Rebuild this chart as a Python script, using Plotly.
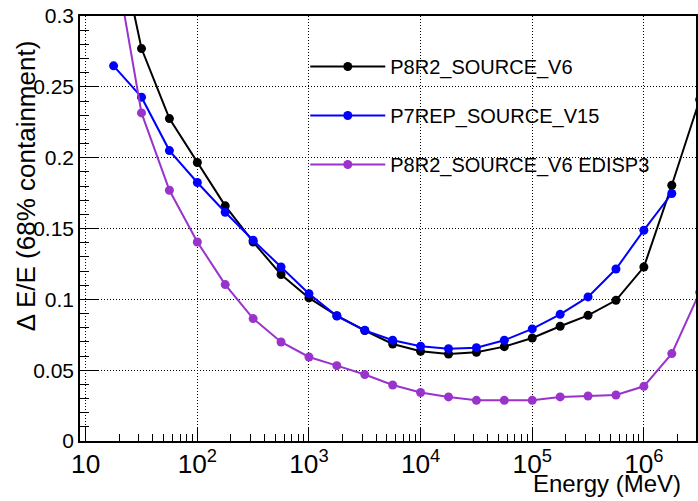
import plotly.graph_objects as go

energy = [17.78, 31.62, 56.23, 100, 177.8, 316.2, 562.3, 1000, 1778, 3162, 5623,
          10000, 17783, 31623, 56234, 100000, 177828, 316228, 562341, 1000000,
          1778279, 3162278]

p8r2 = [0.370, 0.277, 0.2276, 0.1966, 0.166, 0.1405, 0.1175, 0.101, 0.0885, 0.078,
        0.0685, 0.0633, 0.0614, 0.0626, 0.0666, 0.0727, 0.081, 0.0887, 0.0993,
        0.1228, 0.1805, 0.241]
p7rep = [0.2648, 0.2427, 0.205, 0.1825, 0.1615, 0.1417, 0.1228, 0.104, 0.0882,
         0.0781, 0.0711, 0.0669, 0.0652, 0.0659, 0.0711, 0.0791, 0.0894, 0.1017,
         0.1214, 0.1488, 0.1747]
p8r2_edisp3 = [0.345, 0.2316, 0.177, 0.1405, 0.1104, 0.0864, 0.0699, 0.0593, 0.0532,
               0.0469, 0.0395, 0.0342, 0.0311, 0.0287, 0.0287, 0.0287, 0.0311, 0.0318,
               0.0325, 0.0386, 0.0617, 0.105]

names = ["P8R2_SOURCE_V6", "P7REP_SOURCE_V15", "P8R2_SOURCE_V6 EDISP3"]
colors = ["#000000", "#0000ff", "#9933cc"]
series = [p8r2, p7rep, p8r2_edisp3]

FONT = "Liberation Sans, Arial, Helvetica, sans-serif"

fig = go.Figure()
for i, (nm, col, ys) in enumerate(zip(names, colors, series)):
    fig.add_trace(go.Scatter(
        x=energy[:len(ys)], y=ys, name=nm, mode="lines+markers",
        line=dict(color=col, width=2),
        marker=dict(color=col, size=9, symbol="circle"),
        legendgroup=f"g{i}",
    ))

fig.update_layout(
    width=698, height=501,
    margin=dict(l=80, r=0, t=16, b=60),
    paper_bgcolor="white", plot_bgcolor="white",
    font=dict(family=FONT, color="black", size=20),
    showlegend=True,
    legend=dict(x=(306 - 80) / 618, y=(441 - 47) / 425, xanchor="left", yanchor="top",
                bgcolor="rgba(0,0,0,0)", borderwidth=0, itemwidth=75,
                tracegroupgap=20, traceorder="grouped",
                font=dict(family=FONT, size=20, color="black")),
)

fig.update_xaxes(
    type="log", range=[0.949, 6.467],
    showline=True, linecolor="black", linewidth=1.5, mirror=True,
    showgrid=True, gridcolor="black", griddash="1px,2px", gridwidth=1,
    ticks="inside", ticklen=14, tickcolor="black", dtick=1,
    exponentformat="power", tickfont=dict(size=21),
    minor=dict(ticks="inside", ticklen=7, tickcolor="black", dtick="D1", showgrid=False),
    zeroline=False,
)
fig.update_yaxes(
    range=[0, 0.3],
    showline=True, linecolor="black", linewidth=1.5, mirror=True,
    showgrid=True, gridcolor="black", griddash="1px,2px", gridwidth=1,
    ticks="inside", ticklen=18, tickcolor="black", dtick=0.05,
    tickfont=dict(size=21),
    minor=dict(ticks="inside", ticklen=9, tickcolor="black", dtick=0.01, showgrid=False),
    zeroline=False,
)

fig.add_annotation(text="Δ E/E (68% containment)", xref="paper", yref="paper",
                   x=(26 - 80) / 618, y=(441 - 186) / 425, textangle=-90,
                   xanchor="center", yanchor="middle", showarrow=False,
                   font=dict(family=FONT, size=26, color="black"))
fig.add_annotation(text="Energy (MeV)", xref="paper", yref="paper",
                   x=(685 - 80) / 618, y=(441 - 484) / 425,
                   xanchor="right", yanchor="middle", showarrow=False,
                   font=dict(family=FONT, size=24, color="black"))

fig.write_html("out.html", config={"displayModeBar": False},
               post_script="document.body.style.margin='0';document.body.style.overflow='hidden';")
